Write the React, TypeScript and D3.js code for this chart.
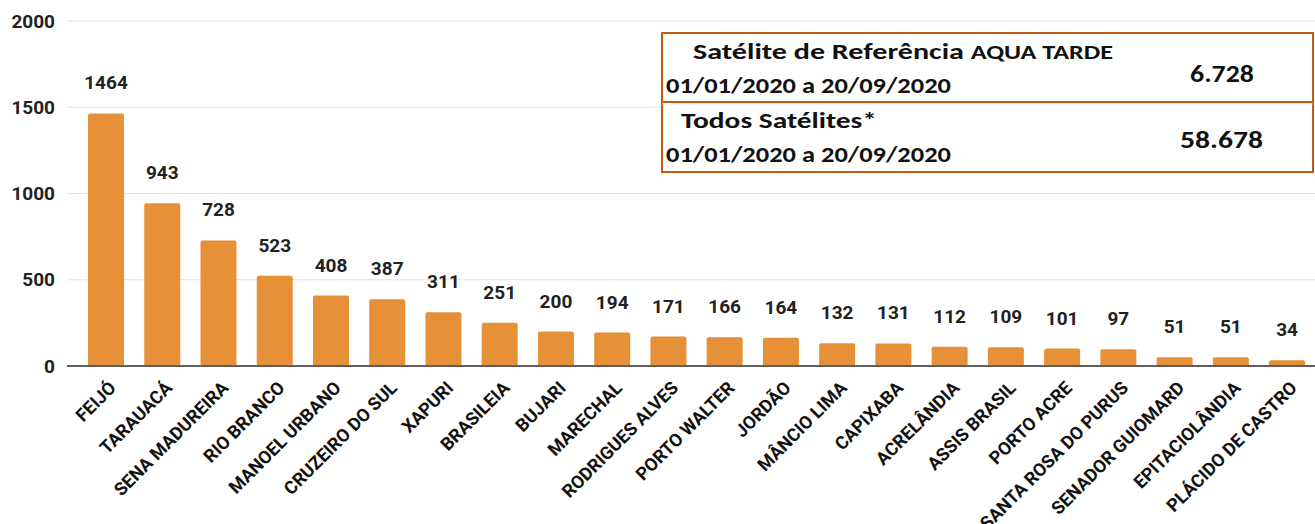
import React from "react";
import { scaleBand, scaleLinear } from "d3";

const municipios = [
  "FEIJÓ", "TARAUACÁ", "SENA MADUREIRA", "RIO BRANCO", "MANOEL URBANO",
  "CRUZEIRO DO SUL", "XAPURI", "BRASILEIA", "BUJARI", "MARECHAL",
  "RODRIGUES ALVES", "PORTO WALTER", "JORDÃO", "MÂNCIO LIMA", "CAPIXABA",
  "ACRELÂNDIA", "ASSIS BRASIL", "PORTO ACRE", "SANTA ROSA DO PURUS",
  "SENADOR GUIOMARD", "EPITACIOLÂNDIA", "PLÁCIDO DE CASTRO",
];
const focos = [1464, 943, 728, 523, 408, 387, 311, 251, 200, 194, 171, 166, 164, 132, 131, 112, 109, 101, 97, 51, 51, 34];
const yTicks = [0, 500, 1000, 1500, 2000];

const W = 1315;
const H = 524;
const font = "Roboto, 'Liberation Sans', Arial, sans-serif";
const boxFont = "Carlito, 'Open Sans', 'Noto Sans', sans-serif";

const App: React.FC = () => {
  const x = scaleBand<string>()
    .domain(municipios)
    .range([77.9, 1315.2])
    .paddingInner(0.36)
    .paddingOuter(0.18);
  const y = scaleLinear().domain([0, 2000]).range([366, 21]);
  const left = 67;

  return (
    <svg width={W} height={H} style={{ position: "absolute", left: 0, top: 0 }}>
      <rect width={W} height={H} fill="#fff" />
      {yTicks.map((t) => (
        <g key={t}>
          {t !== 0 && (
            <line x1={left} x2={W} y1={y(t)} y2={y(t)} stroke="#e2e2ea" strokeWidth={1} />
          )}
          <text
            x={55}
            y={y(t)}
            dy="0.35em"
            textAnchor="end"
            fontFamily={font}
            fontWeight="bold"
            fontSize={19}
            fill="#222"
          >
            {t}
          </text>
        </g>
      ))}
      {municipios.map((m, i) => {
        const x0 = x(m)!;
        const bw = x.bandwidth();
        const cx = x0 + bw / 2;
        const top = y(focos[i]);
        return (
          <g key={m}>
            <path
              d={`M${x0},${y(0)}V${top + 2}Q${x0},${top} ${x0 + 2},${top}H${x0 + bw - 2}Q${x0 + bw},${top} ${x0 + bw},${top + 2}V${y(0)}Z`}
              fill="#e69138"
            />
            <text
              x={cx}
              y={top - 24}
              textAnchor="middle"
              fontFamily={font}
              fontWeight="bold"
              fontSize={19}
              fill="#222"
            >
              {focos[i]}
            </text>
            <text
              transform={`translate(${cx + 11},${y(0) + 23}) rotate(-45)`}
              textAnchor="end"
              fontFamily={font}
              fontWeight="bold"
              fontSize={18}
              fill="#111"
            >
              {m}
            </text>
          </g>
        );
      })}
      <line x1={left} x2={W} y1={y(0)} y2={y(0)} stroke="#5f5f5f" strokeWidth={2} />

      <g fontFamily={boxFont} fontWeight="bold" fill="#111">
        <rect x={662} y={33} width={651} height={139} fill="#fff" stroke="#c55a11" strokeWidth={2} />
        <line x1={662} x2={1313} y1={102} y2={102} stroke="#c55a11" strokeWidth={2} />
        <line x1={662} x2={1313} y1={104} y2={104} stroke="#e3e3ea" strokeWidth={1} />
        <text x={693} y={59} fontSize={23} textLength={420} lengthAdjust="spacingAndGlyphs">
          Satélite de Referência <tspan fontSize={20}>AQUA TARDE</tspan>
        </text>
        <text x={666} y={93} fontSize={22} textLength={285} lengthAdjust="spacingAndGlyphs">
          01/01/2020 a 20/09/2020
        </text>
        <text x={1190} y={82} fontSize={25} textLength={64} lengthAdjust="spacingAndGlyphs">6.728</text>
        <text x={681} y={128} fontSize={23} textLength={196} lengthAdjust="spacingAndGlyphs">
          Todos Satélites*
        </text>
        <text x={666} y={162} fontSize={22} textLength={285} lengthAdjust="spacingAndGlyphs">
          01/01/2020 a 20/09/2020
        </text>
        <text x={1180} y={148} fontSize={25} textLength={83} lengthAdjust="spacingAndGlyphs">58.678</text>
      </g>
    </svg>
  );
};

export default App;
